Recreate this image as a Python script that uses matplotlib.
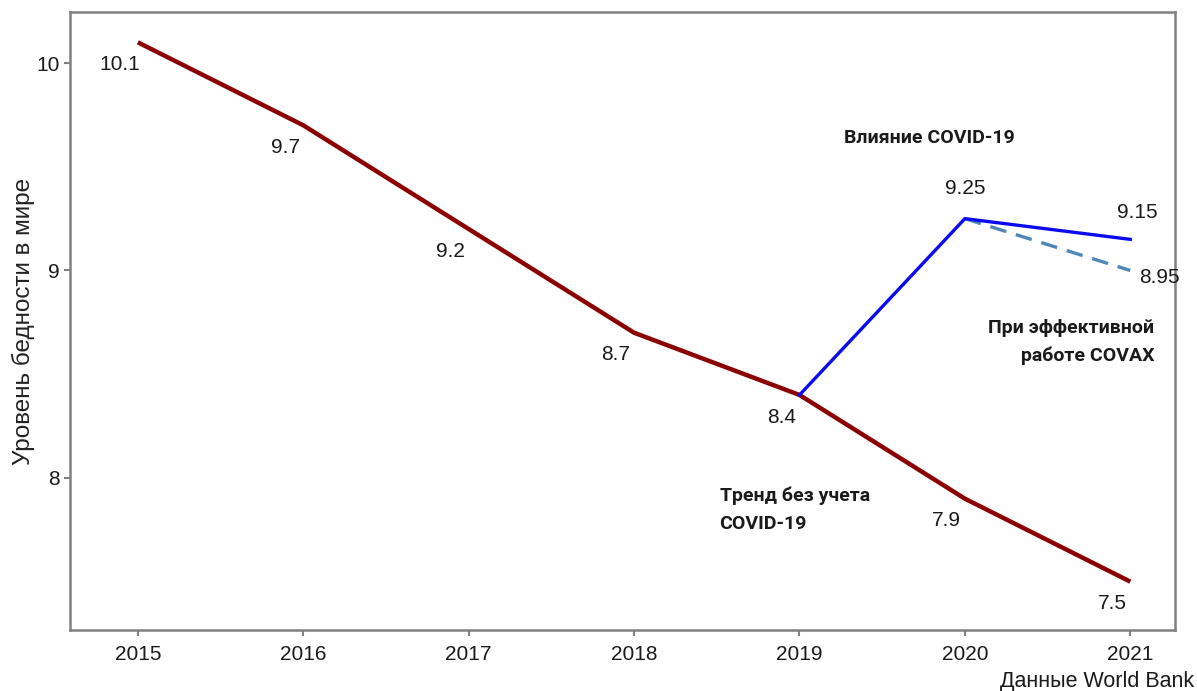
import matplotlib
matplotlib.use("Agg")
import matplotlib.pyplot as plt

years = [2015, 2016, 2017, 2018, 2019, 2020, 2021]
trend = [10.1, 9.7, 9.2, 8.7, 8.4, 7.9, 7.5]
trend_labels = ["10.1", "9.7", "9.2", "8.7", "8.4", "7.9", "7.5"]

covid_years = [2019, 2020, 2021]
covid = [8.4, 9.25, 9.15]
covax_years = [2020, 2021]
covax = [9.25, 9.0]

xticks = [2015, 2016, 2017, 2018, 2019, 2020, 2021]
yticks = [8, 9, 10]

plt.rcParams['font.family'] = ['Liberation Sans', 'DejaVu Sans']

fig = plt.figure(figsize=(11.97, 6.91), dpi=100)
ax = fig.add_axes([0.0585, 0.0883, 0.9231, 0.8943])

ax.plot(years, trend, color='#8B0000', lw=3.2, solid_capstyle='butt', zorder=3)
ax.plot(covid_years, covid, color='#0A0AF0', lw=2.4, zorder=4)
ax.plot(covax_years, covax, color='#4F86B8', lw=2.4, ls=(0, (5, 3)), zorder=3)

txtc = '#1a1a1a'
for x, y, s in zip(years, trend, trend_labels):
    ax.annotate(s, (x, y), xytext=(-13, -16), textcoords='offset points',
                ha='center', va='center', fontsize=15, color=txtc)

ax.annotate("9.25", (2020, 9.25), xytext=(0, 22), textcoords='offset points',
            ha='center', va='center', fontsize=15, color=txtc)
ax.annotate("9.15", (2021, 9.15), xytext=(5, 19), textcoords='offset points',
            ha='center', va='center', fontsize=15, color=txtc)
ax.annotate("8.95", (2021, 9.0), xytext=(21, -5), textcoords='offset points',
            ha='center', va='center', fontsize=15, color=txtc)

bold = dict(family=['Roboto', 'DejaVu Sans'], fontweight='bold', fontsize=14, color=txtc)
ax.text(2019.27, 9.64, "Влияние COVID-19", ha='left', va='center', **bold)
ax.text(2021.145, 8.656, "При эффективной\nработе COVAX", ha='right', va='center',
        multialignment='right', linespacing=1.7, **bold)
ax.text(2018.517, 7.846, "Тренд без учета\nCOVID-19", ha='left', va='center',
        multialignment='left', linespacing=1.7, **bold)

ax.set_xlim(2014.59, 2021.27)
ax.set_ylim(7.267, 10.246)
ax.set_xticks(xticks)
ax.set_xticklabels([str(t) for t in xticks])
ax.set_yticks(yticks)
ax.set_yticklabels([str(t) for t in yticks])
ax.tick_params(labelsize=15, colors='#808080', labelcolor=txtc, length=4, width=1.5)
ax.tick_params(axis='x', pad=7)

for sp in ax.spines.values():
    sp.set_color('#808080')
    sp.set_linewidth(1.8)

ax.set_ylabel("Уровень бедности в мире", fontsize=17.5, color='#222')
ax.yaxis.set_label_coords(-0.032, 0.5)

fig.text(0.998, 0.014, "Данные World Bank", ha='right', va='center', fontsize=15.5, color=txtc)

fig.savefig("out.png", dpi=100)
